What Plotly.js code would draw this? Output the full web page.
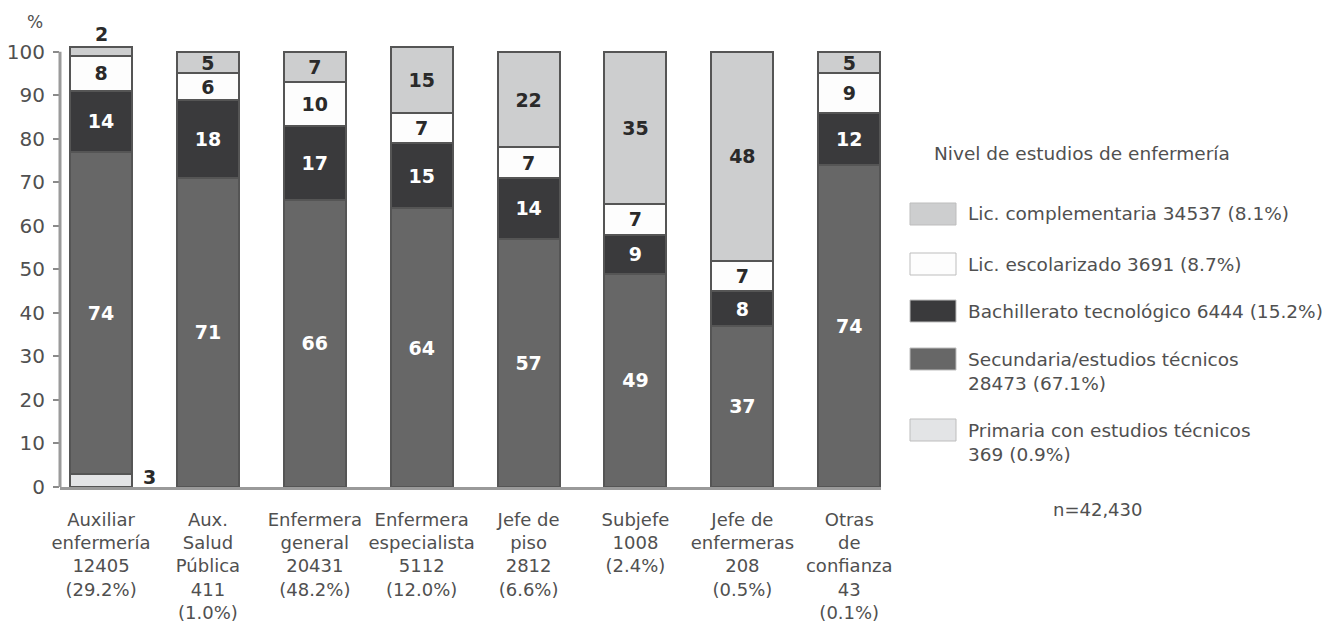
<!DOCTYPE html>
<html>
<head>
<meta charset="utf-8">
<script src="https://cdn.plot.ly/plotly-3.0.1.min.js"></script>
<style>
  html, body { margin: 0; padding: 0; background: #fff; }
  #chart { width: 1336px; height: 626px; }
</style>
</head>
<body>
<div id="chart"></div>
<script>
// Occupational categories (with headcount and share) on the x axis
const categories = [
  "Auxiliar<br>enfermería<br>12405<br>(29.2%)",
  "Aux.<br>Salud<br>Pública<br>411<br>(1.0%)",
  "Enfermera<br>general<br>20431<br>(48.2%)",
  "Enfermera<br>especialista<br>5112<br>(12.0%)",
  "Jefe de<br>piso<br>2812<br>(6.6%)",
  "Subjefe<br>1008<br>(2.4%)",
  "Jefe de<br>enfermeras<br>208<br>(0.5%)",
  "Otras<br>de<br>confianza<br>43<br>(0.1%)"
];

// Percentage of each category by nursing education level (stacked bottom to top)
const primaria          = [3, 0, 0, 0, 0, 0, 0, 0];
const secundaria        = [74, 71, 66, 64, 57, 49, 37, 74];
const bachillerato      = [14, 18, 17, 15, 14, 9, 8, 12];
const licEscolarizado   = [8, 6, 10, 7, 7, 7, 7, 9];
const licComplementaria = [2, 5, 7, 15, 22, 35, 48, 5];

// Legend labels
const nameComplementaria = "Lic. complementaria 34537 (8.1%)";
const nameEscolarizado   = "Lic. escolarizado 3691 (8.7%)";
const nameBachillerato   = "Bachillerato tecnológico 6444 (15.2%)";
const nameSecundaria     = "Secundaria/estudios técnicos<br>28473 (67.1%)";
const namePrimaria       = "Primaria con estudios técnicos<br>369 (0.9%)";

const legendTitle = "Nivel de estudios de enfermería";
const sampleNote = "n=42,430";
const yUnit = "%";

const FONT = "DejaVu Sans, Liberation Sans, Arial, sans-serif";
const GREY_TEXT = "#505050";

// stacking order, bottom first
const series = [
  { name: namePrimaria,       values: primaria,          fill: "#e3e4e6", text: "#333" },
  { name: nameSecundaria,     values: secundaria,        fill: "#676767", text: "#ffffff" },
  { name: nameBachillerato,   values: bachillerato,      fill: "#3a3a3c", text: "#ffffff" },
  { name: nameEscolarizado,   values: licEscolarizado,   fill: "#fdfdfd", text: "#2a2a2a" },
  { name: nameComplementaria, values: licComplementaria, fill: "#cdcecf", text: "#2a2a2a" }
];

const MIN_INSIDE = 5;   // smaller segments get their label outside the bar
const BAR_WIDTH = 0.58;

const traces = series.map(s => ({
  type: "bar",
  x: categories,
  y: s.values,
  name: s.name,
  width: BAR_WIDTH,
  marker: { color: s.fill, line: { color: "#555555", width: 2 } },
  text: s.values.map(v => (v >= MIN_INSIDE ? String(v) : "")),
  textposition: "inside",
  insidetextanchor: "middle",
  textangle: 0,
  constraintext: "none",
  insidetextfont: { family: FONT, size: 19, color: s.text, weight: "bold" },
  hoverinfo: "skip",
  showlegend: false
}));

// plot area geometry (pixels) used to place the hand-drawn legend
const W = 1336, H = 626;
const M = { l: 60, r: 455, t: 43, b: 139 };
const PW = W - M.l - M.r, PH = H - M.t - M.b;
const px = x => (x - M.l) / PW;
const py = y => (H - M.b - y) / PH;

const annotations = [];
const shapes = [];

// outside labels for small segments
const totals = categories.map((_, i) => series.reduce((a, s) => a + s.values[i], 0));
series.forEach((s, si) => {
  s.values.forEach((v, i) => {
    if (v > 0 && v < MIN_INSIDE) {
      const base = series.slice(0, si).reduce((a, t) => a + t.values[i], 0);
      if (si === series.length - 1) {
        annotations.push({ x: categories[i], y: totals[i], xref: "x", yref: "y",
          text: "<b>" + v + "</b>", showarrow: false, xanchor: "center", yanchor: "bottom", yshift: 0,
          font: { family: FONT, size: 19, color: "#2a2a2a" } });
      } else {
        annotations.push({ x: categories[i], y: base + v / 2, xref: "x", yref: "y",
          text: "<b>" + v + "</b>", showarrow: false, xanchor: "left", yanchor: "middle",
          xshift: 40, yshift: 3,
          font: { family: FONT, size: 19, color: "#2a2a2a" } });
      }
    }
  });
});

// y axis line drawn from 0 to 100 only
shapes.push({ type: "line", xref: "paper", yref: "y", x0: 0, x1: 0, y0: 0, y1: 100,
  line: { color: "#9a9a9a", width: 3 } });

// unit label above the y axis
annotations.push({ xref: "paper", yref: "paper", x: px(35), y: py(22), text: yUnit,
  xanchor: "center", yanchor: "middle",
  showarrow: false, font: { family: FONT, size: 17, color: GREY_TEXT } });

// legend
const LEG_FONT = 18.5;
const LINE_H = 24;
annotations.push({ xref: "paper", yref: "paper", x: px(932), y: py(153), xanchor: "left",
  yanchor: "middle", text: legendTitle, showarrow: false,
  font: { family: FONT, size: LEG_FONT, color: GREY_TEXT } });

const legendRows = [214, 264, 311, 359, 430];   // swatch centres, top to bottom
const legendOrder = series.slice().reverse();
legendOrder.forEach((s, k) => {
  const cy = legendRows[k];
  shapes.push({ type: "rect", xref: "paper", yref: "paper",
    x0: px(910), x1: px(956), y0: py(cy + 11), y1: py(cy - 11),
    fillcolor: s.fill, line: { color: "#bdbdbd", width: 1 } });
  const lines = s.name.split("<br>").length;
  annotations.push({ xref: "paper", yref: "paper", x: px(966), y: py(cy + (lines - 1) * LINE_H / 2),
    xanchor: "left", yanchor: "middle", align: "left", text: s.name, showarrow: false,
    font: { family: FONT, size: LEG_FONT, color: GREY_TEXT } });
});

annotations.push({ xref: "paper", yref: "paper", x: px(1097), y: py(509), xanchor: "center",
  yanchor: "middle", text: sampleNote, showarrow: false,
  font: { family: FONT, size: 18, color: GREY_TEXT } });

const layout = {
  width: W, height: H,
  margin: M,
  paper_bgcolor: "#ffffff",
  plot_bgcolor: "#ffffff",
  barmode: "stack",
  showlegend: false,
  font: { family: FONT, color: GREY_TEXT },
  xaxis: {
    type: "category",
    range: [-0.384, 7.297],
    showline: true, linecolor: "#9a9a9a", linewidth: 3,
    ticks: "", showgrid: false, zeroline: false,
    ticklabelstandoff: 14,
    tickfont: { family: FONT, size: 18, color: GREY_TEXT },
    fixedrange: true
  },
  yaxis: {
    range: [0, 102],
    tickvals: [0, 10, 20, 30, 40, 50, 60, 70, 80, 90, 100],
    ticks: "outside", ticklen: 6, tickwidth: 2, tickcolor: "#8a8a8a",
    showline: false, showgrid: false, zeroline: false,
    ticklabelstandoff: 4,
    tickfont: { family: FONT, size: 20, color: GREY_TEXT },
    fixedrange: true
  },
  shapes: shapes,
  annotations: annotations
};

Plotly.newPlot("chart", traces, layout, { displayModeBar: false, staticPlot: true });
</script>
</body>
</html>
